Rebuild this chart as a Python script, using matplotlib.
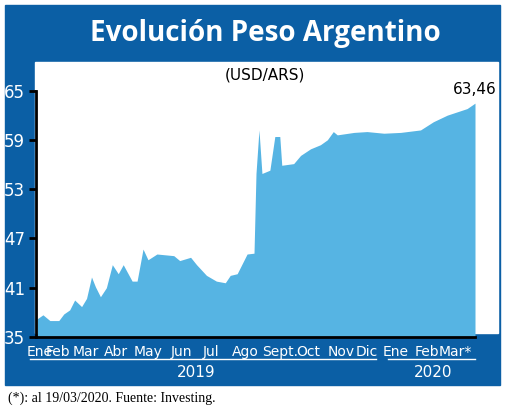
import matplotlib.pyplot as plt
from matplotlib.patches import Rectangle

# days since 1 Jan 2019 and USD/ARS rate
dias = [1, 7, 14, 23, 28, 34, 39, 46, 51, 56, 60, 65, 71, 77, 83, 88, 97, 102, 108, 113,
        122, 139, 145, 156, 162, 172, 182, 191, 196, 203, 213, 220, 222, 225, 228, 236,
        241, 246, 248, 260, 267, 277, 287, 294, 300, 304, 321, 334, 351, 368, 388, 401,
        415, 435, 443]
valores = [37.2, 37.7, 37.0, 37.0, 37.8, 38.3, 39.5, 38.7, 39.7, 42.3, 41.1, 39.9, 41.0,
           43.8, 42.7, 43.8, 41.8, 41.8, 45.7, 44.4, 45.1, 44.9, 44.3, 44.7, 43.8, 42.5,
           41.8, 41.6, 42.5, 42.7, 45.1, 45.2, 54.9, 60.2, 54.9, 55.3, 59.4, 59.4, 55.9,
           56.1, 57.1, 57.9, 58.4, 59.0, 60.0, 59.6, 59.9, 60.0, 59.8, 59.9, 60.2, 61.2,
           62.0, 62.8, 63.46]
meses = ['Ene', 'Feb', 'Mar', 'Abr', 'May', 'Jun', 'Jul', 'Ago', 'Sept.', 'Oct', 'Nov',
         'Dic', 'Ene', 'Feb', 'Mar*']
mes_pos = [4, 22, 50, 81, 113, 147, 177, 211, 246, 275, 308, 334, 363, 395, 423]
yticks = [35, 41, 47, 53, 59, 65]

W, H = 520, 411
azul = '#0b5fa5'
celeste = '#56b4e3'


def fx(x):
    return x / W


def fy(y):
    return 1 - y / H


fig = plt.figure(figsize=(5.2, 4.11), dpi=100)
fig.patches.append(Rectangle((fx(5), fy(385)), fx(495), 380 / H, transform=fig.transFigure,
                             color=azul, zorder=-2))
fig.patches.append(Rectangle((fx(35), fy(333)), fx(463), 271 / H, transform=fig.transFigure,
                             color='white', zorder=-1))
fig.text(fx(265), fy(34), 'Evolución Peso Argentino', color='white', fontsize=20,
         fontweight='bold', family='Open Sans', ha='center', va='center')
fig.text(fx(265), fy(75), '(USD/ARS)', color='black', fontsize=11, ha='center', va='center')

ax = fig.add_axes([fx(36), fy(337), fx(439), 246.5 / H])
ax.set_zorder(5)
ax.set_facecolor('none')
ax.fill_between(dias, valores, 35, color=celeste, lw=0)
ax.set_xlim(0, 443)
ax.set_ylim(35, 65)
ax.set_yticks(yticks)
ax.set_yticklabels([str(v) for v in yticks], color='white', fontsize=12)
ax.tick_params(axis='y', length=5, width=2, color='black', pad=3)
ax.set_xticks(mes_pos)
ax.set_xticklabels(meses, color='white', fontsize=10)
ax.tick_params(axis='x', length=0, pad=6)
for s in ['top', 'right']:
    ax.spines[s].set_visible(False)
ax.spines['left'].set_linewidth(2)
ax.spines['bottom'].set_linewidth(2)
ax.text(443, 64.2, '63,46', ha='center', va='bottom', fontsize=11, clip_on=False)

# líneas de años
fig.add_artist(plt.Line2D([fx(30), fx(376)], [fy(359), fy(359)], color='white', lw=1))
fig.add_artist(plt.Line2D([fx(388), fx(475)], [fy(359), fy(359)], color='white', lw=1))
fig.text(fx(196), fy(372), '2019', color='white', fontsize=11, ha='center', va='center')
fig.text(fx(433), fy(372), '2020', color='white', fontsize=11, ha='center', va='center')
fig.text(fx(8), fy(398), '(*): al 19/03/2020. Fuente: Investing.', fontsize=10,
         family='Liberation Serif', ha='left', va='center')

fig.savefig('out.png', dpi=100)
